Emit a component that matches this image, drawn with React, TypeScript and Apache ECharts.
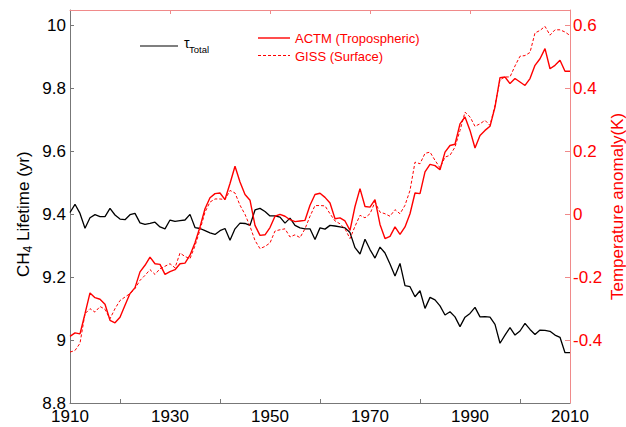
import React, { useEffect, useRef } from "react";
import * as echarts from "echarts";

const startYear = 1910;
const tauTotal = [
  9.406, 9.432, 9.403, 9.356, 9.389, 9.399, 9.393, 9.393, 9.419, 9.398,
  9.385, 9.383, 9.399, 9.403, 9.373, 9.368, 9.371, 9.375, 9.36, 9.354,
  9.382, 9.378, 9.38, 9.382, 9.4, 9.358, 9.355, 9.348, 9.341, 9.336,
  9.348, 9.355, 9.318, 9.354, 9.372, 9.371, 9.365, 9.414, 9.419, 9.409,
  9.395, 9.395, 9.391, 9.372, 9.388, 9.365, 9.357, 9.354, 9.354, 9.32,
  9.357, 9.353, 9.365, 9.363, 9.36, 9.357, 9.342, 9.294, 9.274, 9.321,
  9.288, 9.261, 9.296, 9.277, 9.242, 9.204, 9.244, 9.173, 9.17, 9.138,
  9.157, 9.101, 9.136, 9.128, 9.109, 9.08, 9.09, 9.074, 9.043, 9.073,
  9.085, 9.104, 9.074, 9.075, 9.073, 9.05, 8.99, 9.016, 9.04, 9.016,
  9.029, 9.053, 9.034, 9.018, 9.032, 9.031, 9.028, 9.016, 9.009, 8.96,
  8.96,
];
const actm = [
  -0.388, -0.377, -0.38, -0.316, -0.25, -0.265, -0.27, -0.286, -0.337, -0.345,
  -0.327, -0.289, -0.252, -0.233, -0.183, -0.162, -0.136, -0.157, -0.159, -0.191,
  -0.182, -0.176, -0.157, -0.155, -0.13, -0.09, -0.04, 0.018, 0.053, 0.066,
  0.068, 0.047, 0.098, 0.153, 0.103, 0.063, 0.045, -0.035, -0.067, -0.065,
  -0.042, -0.006, 0.0, -0.006, -0.017, -0.023, -0.021, -0.019, 0.029, 0.063,
  0.067, 0.054, 0.036, -0.014, -0.011, -0.021, -0.051, 0.025, 0.082, 0.025,
  0.023, 0.047, -0.032, -0.077, -0.07, -0.04, -0.064, -0.04, 0.002, 0.068,
  0.066, 0.135, 0.159, 0.155, 0.142, 0.198, 0.219, 0.223, 0.288, 0.31,
  0.267, 0.211, 0.251, 0.267, 0.28, 0.341, 0.435, 0.437, 0.416, 0.432,
  0.421, 0.41, 0.432, 0.474, 0.495, 0.527, 0.463, 0.474, 0.49, 0.455,
  0.455,
];
const giss = [
  -0.438, -0.433, -0.41, -0.316, -0.3, -0.311, -0.293, -0.302, -0.332, -0.3,
  -0.274, -0.263, -0.252, -0.236, -0.21, -0.194, -0.176, -0.191, -0.173, -0.165,
  -0.157, -0.17, -0.123, -0.134, -0.141, -0.1, -0.05, 0.007, 0.039, 0.049,
  0.049, 0.047, 0.076, 0.068, 0.029, 0.0, -0.038, -0.083, -0.109, -0.102,
  -0.091, -0.053, -0.049, -0.046, -0.072, -0.065, -0.074, -0.046, -0.006, 0.028,
  0.028, 0.027, 0.002, -0.021, -0.03, -0.046, -0.077, -0.038, -0.003, -0.011,
  0.002, 0.039, 0.007, 0.002, -0.006, 0.015, 0.002, 0.029, 0.076, 0.166,
  0.161, 0.194, 0.198, 0.172, 0.148, 0.182, 0.188, 0.214, 0.267, 0.325,
  0.31, 0.28, 0.288, 0.299, 0.283, 0.347, 0.428, 0.437, 0.437, 0.472,
  0.503, 0.505, 0.515, 0.577, 0.585, 0.598, 0.57, 0.587, 0.587, 0.58,
  0.569,
];
const xLabelYears = [1910, 1930, 1950, 1970, 1990, 2010];
const xBottomTicks = [1920, 1940, 1960, 1980, 2000];
const xTopTicks = [1930, 1950, 1970, 1990];
const leftTicks = [8.8, 9, 9.2, 9.4, 9.6, 9.8, 10];
const rightTicks = [-0.4, -0.2, 0, 0.2, 0.4, 0.6];

const FONT = "Liberation Sans, Arial, Helvetica, sans-serif";
const RED = "#ff0000";
const PINK = "#f08a8a";
const GREY = "#777777";

export default function App() {
  const ref = useRef<HTMLDivElement>(null);
  useEffect(() => {
    if (!ref.current) return;
    const chart = echarts.init(ref.current, null, { renderer: "svg" });
    const toPairs = (arr: number[]) => arr.map((v, i) => [startYear + i, v]);
    chart.setOption({
      animation: false,
      backgroundColor: "#ffffff",
      grid: { left: 70, right: 56, top: 10, bottom: 24, containLabel: false },
      xAxis: [
        {
          type: "value",
          position: "bottom",
          min: 1910,
          max: 2010,
          interval: 10,
          splitLine: { show: false },
          axisLine: { show: true, onZero: false, lineStyle: { color: GREY, width: 1 } },
          axisTick: { show: true, inside: true, length: 4, customValues: xBottomTicks, lineStyle: { color: GREY } },
          axisLabel: {
            show: true,
            customValues: xLabelYears,
            formatter: (v: number) => String(v),
            color: "#000",
            fontSize: 17,
            fontFamily: FONT,
            margin: 5,
          },
        },
        {
          type: "value",
          position: "top",
          min: 1910,
          max: 2010,
          interval: 10,
          splitLine: { show: false },
          axisLine: { show: true, onZero: false, lineStyle: { color: PINK, width: 1 } },
          axisTick: { show: true, inside: true, length: 4, customValues: xTopTicks, lineStyle: { color: PINK } },
          axisLabel: { show: false },
        },
      ],
      yAxis: [
        {
          type: "value",
          position: "left",
          min: 8.8,
          max: 10.05,
          splitLine: { show: false },
          axisLine: { show: true, onZero: false, lineStyle: { color: GREY, width: 1 } },
          axisTick: { show: true, inside: true, length: 4, customValues: leftTicks, lineStyle: { color: GREY } },
          axisLabel: {
            show: true,
            customValues: leftTicks,
            formatter: (v: number) => String(Math.round(v * 10) / 10),
            color: "#000",
            fontSize: 17,
            fontFamily: FONT,
            margin: 4,
          },
        },
        {
          type: "value",
          position: "right",
          min: -0.6,
          max: 0.65,
          splitLine: { show: false },
          axisLine: { show: true, onZero: false, lineStyle: { color: PINK, width: 1 } },
          axisTick: { show: true, inside: true, length: 5, customValues: rightTicks, lineStyle: { color: PINK } },
          axisLabel: {
            show: true,
            customValues: rightTicks,
            formatter: (v: number) => String(Math.round(v * 10) / 10),
            color: RED,
            fontSize: 17,
            fontFamily: FONT,
            margin: 3,
          },
        },
      ],
      series: [
        {
          name: "τTotal",
          type: "line",
          xAxisIndex: 0,
          yAxisIndex: 0,
          data: toPairs(tauTotal),
          showSymbol: false,
          symbol: "none",
          lineStyle: { color: "#000", width: 1.3 },
        },
        {
          name: "ACTM (Tropospheric)",
          type: "line",
          xAxisIndex: 0,
          yAxisIndex: 1,
          data: toPairs(actm),
          showSymbol: false,
          symbol: "none",
          lineStyle: { color: RED, width: 1.4 },
        },
        {
          name: "GISS (Surface)",
          type: "line",
          xAxisIndex: 0,
          yAxisIndex: 1,
          data: toPairs(giss),
          showSymbol: false,
          symbol: "none",
          lineStyle: { color: RED, width: 1, type: [3, 2] },
        },
      ],
      graphic: [
        {
          type: "group",
          x: 23,
          y: 210,
          rotation: Math.PI / 2,
          children: [
            { type: "text", x: -67, y: 0, style: { text: "CH", fontSize: 17, fontFamily: FONT, fill: "#000", verticalAlign: "middle", align: "left" } },
            { type: "text", x: -42.5, y: 5, style: { text: "4", fontSize: 12, fontFamily: FONT, fill: "#000", verticalAlign: "middle", align: "left" } },
            { type: "text", x: -35.8, y: 0, style: { text: " Lifetime (yr)", fontSize: 17, fontFamily: FONT, fill: "#000", verticalAlign: "middle", align: "left" } },
          ],
        },
        {
          type: "text",
          x: 617,
          y: 206.5,
          rotation: Math.PI / 2,
          style: { text: "Temperature anomaly(K)", fontSize: 17, fontFamily: FONT, fill: RED, align: "center", verticalAlign: "middle" },
        },
        { type: "line", shape: { x1: 140, y1: 46, x2: 178, y2: 46 }, style: { stroke: "#000", lineWidth: 1.2 } },
        { type: "text", x: 184, y: 43, style: { text: "τ", fontSize: 14, fontFamily: FONT, fill: "#000", verticalAlign: "middle", align: "left" } },
        { type: "text", x: 189, y: 49, style: { text: "Total", fontSize: 9.5, fontFamily: FONT, fill: "#000", verticalAlign: "middle", align: "left" } },
        { type: "line", shape: { x1: 258, y1: 38, x2: 290, y2: 38 }, style: { stroke: RED, lineWidth: 1.4 } },
        { type: "text", x: 295, y: 38, style: { text: "ACTM (Tropospheric)", fontSize: 13, fontFamily: FONT, fill: RED, verticalAlign: "middle", align: "left" } },
        { type: "line", shape: { x1: 258, y1: 55.5, x2: 290, y2: 55.5 }, style: { stroke: RED, lineWidth: 1, lineDash: [3, 2] } },
        { type: "text", x: 295, y: 56, style: { text: "GISS (Surface)", fontSize: 13, fontFamily: FONT, fill: RED, verticalAlign: "middle", align: "left" } },
      ],
    });
    return () => chart.dispose();
  }, []);
  return (
    <div
      ref={ref}
      style={{ position: "fixed", left: 0, top: 0, width: 626, height: 427, background: "#fff" }}
    />
  );
}
